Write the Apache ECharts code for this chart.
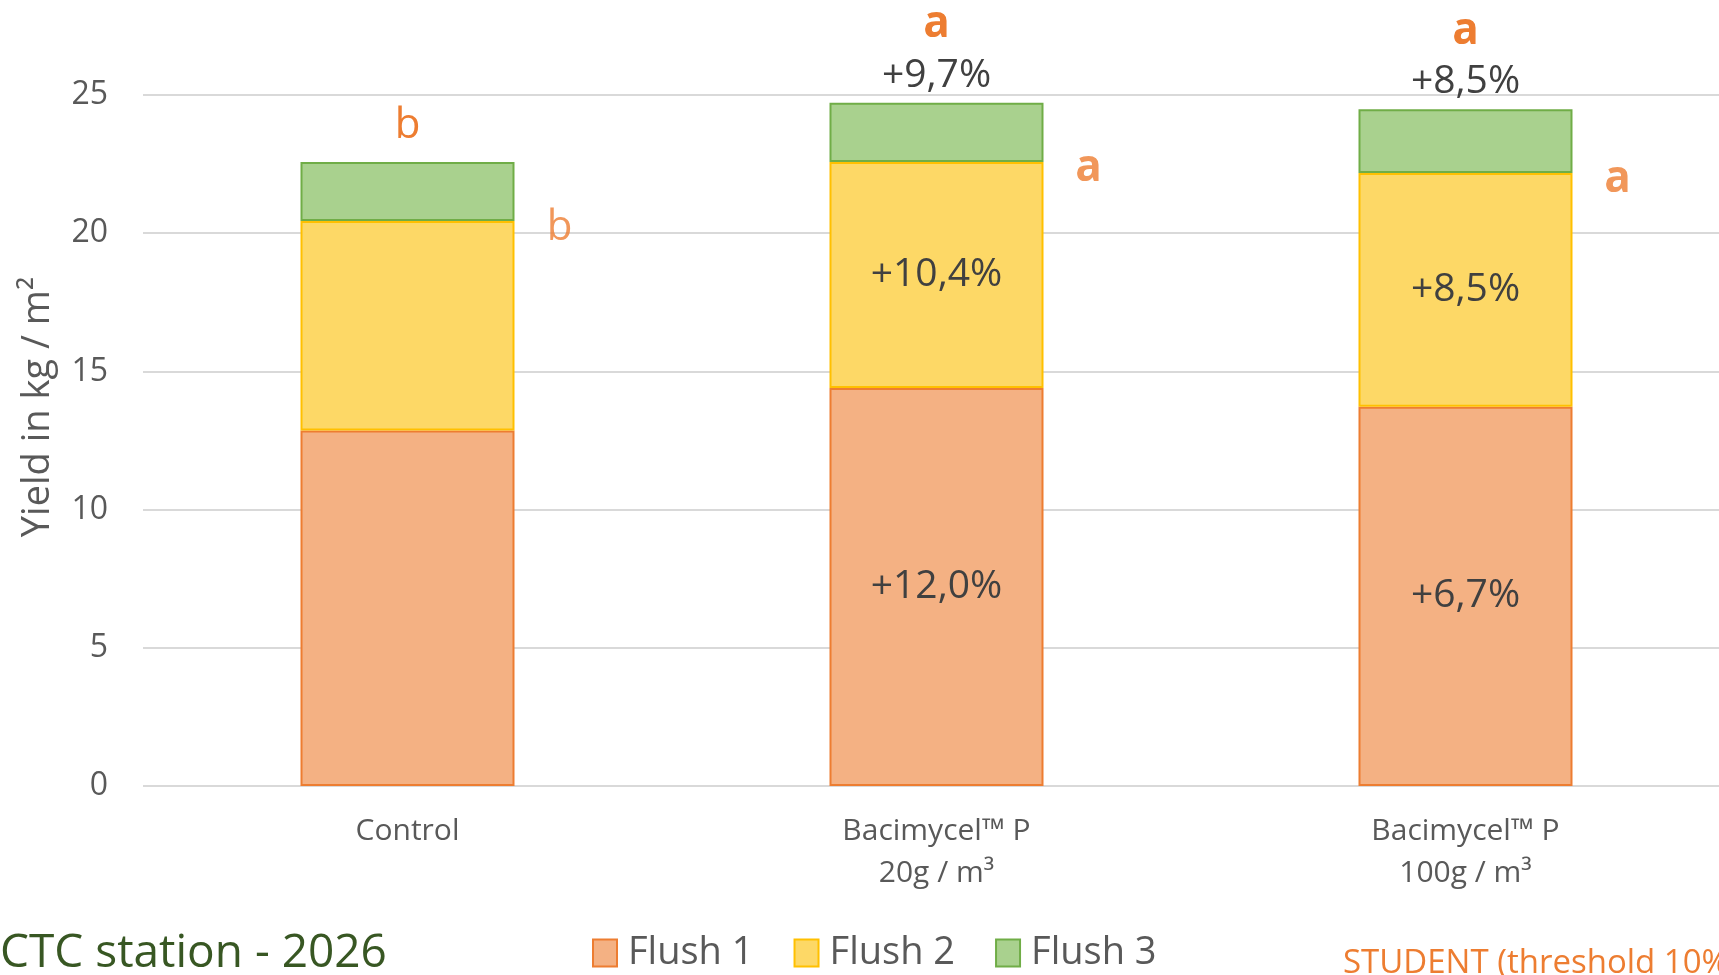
<!DOCTYPE html>
<html>
<head>
<meta charset="utf-8">
<script src="https://cdn.jsdelivr.net/npm/echarts@6/dist/echarts.min.js"></script>
<style>
  html, body { margin: 0; padding: 0; background: #fff; }
  #chart { width: 1719px; height: 975px; }
</style>
</head>
<body>
<div id="chart"></div>
<script>
const categories = ['Control', 'Bacimycel™ P\n20g / m³', 'Bacimycel™ P\n100g / m³']
const flush1 = [12.86, 14.40, 13.72]
const flush2 = [7.58, 8.18, 8.46]
const flush3 = [2.14, 2.14, 2.30]
const flush1Pct = ['', '+12,0%', '+6,7%']
const flush2Pct = ['', '+10,4%', '+8,5%']
const totalPct = ['', '+9,7%', '+8,5%']
const topLetters = ['b', 'a', 'a']
const sideLetters = ['b', 'a', 'a']
const yTicks = [0, 5, 10, 15, 20, 25]

const font = 'Open Sans'
const dark = '#404040'
const orange = '#ED7D31'

const dom = document.getElementById('chart')
const myChart = echarts.init(dom)

const letterStyle = l => (l === 'a' ? 'la' : 'lb')

const option = {
  animation: false,
  textStyle: { fontFamily: font },
  grid: [
    { left: 143, right: 0, top: 95, bottom: 189, outerBoundsMode: 'none' },
    { left: 143, width: 1587, top: 95, bottom: 189, outerBoundsMode: 'none' }
  ],
  legend: {
    data: ['Flush 1', 'Flush 2', 'Flush 3'],
    left: 587,
    top: 929,
    icon: 'rect',
    itemWidth: 24,
    itemHeight: 27,
    itemGap: 40,
    textStyle: { fontSize: 38, color: '#595959', fontFamily: font, padding: [0, 0, 0, 6] }
  },
  xAxis: [
    { gridIndex: 0, type: 'category', data: [''], show: false },
    {
      gridIndex: 1,
      type: 'category',
      data: categories,
      axisLine: { show: false },
      axisTick: { show: false },
      axisLabel: { color: '#595959', fontSize: 30, lineHeight: 42, margin: 24 }
    }
  ],
  yAxis: [
    {
      gridIndex: 0,
      type: 'value',
      min: 0,
      max: 25,
      interval: 5,
      axisLine: { show: false },
      axisTick: { show: false },
      axisLabel: {
        color: '#595959',
        fontSize: 32,
        margin: 35,
        formatter: v => (yTicks.includes(v) ? String(v) : '')
      },
      splitLine: { lineStyle: { color: '#D9D9D9', width: 2 } }
    },
    { gridIndex: 1, type: 'value', min: 0, max: 25, show: false }
  ],
  series: [
    {
      name: 'Flush 1',
      type: 'bar',
      stack: 'yield',
      xAxisIndex: 1,
      yAxisIndex: 1,
      barWidth: 214,
      data: flush1,
      itemStyle: { color: '#F4B183', borderColor: orange, borderWidth: 2 },
      label: {
        show: true,
        position: 'inside',
        color: dark,
        fontSize: 39,
        formatter: p => flush1Pct[p.dataIndex]
      }
    },
    {
      name: 'Flush 2',
      type: 'bar',
      stack: 'yield',
      xAxisIndex: 1,
      yAxisIndex: 1,
      data: flush2,
      itemStyle: { color: '#FDD866', borderColor: '#FFC000', borderWidth: 2 },
      label: {
        show: true,
        position: 'inside',
        color: dark,
        fontSize: 39,
        formatter: p => flush2Pct[p.dataIndex]
      }
    },
    {
      name: 'Flush 3',
      type: 'bar',
      stack: 'yield',
      xAxisIndex: 1,
      yAxisIndex: 1,
      data: flush3,
      itemStyle: { color: '#A9D18E', borderColor: '#70AD47', borderWidth: 2 },
      label: {
        show: true,
        position: 'top',
        distance: 7,
        formatter: p => {
          const l = topLetters[p.dataIndex]
          const pct = totalPct[p.dataIndex]
          return pct
            ? '{' + letterStyle(l) + '|' + l + '}\n{p|' + pct + '}'
            : '{' + letterStyle(l) + 'c|' + l + '}'
        },
        rich: {
          p: { color: dark, fontSize: 39, lineHeight: 40 },
          la: { color: orange, fontSize: 44, fontWeight: 'bold', lineHeight: 62 },
          lb: { color: orange, fontSize: 42, lineHeight: 62 },
          lac: { color: orange, fontSize: 44, fontWeight: 'bold', lineHeight: 58 },
          lbc: { color: orange, fontSize: 42, lineHeight: 58 }
        }
      }
    },
    {
      name: 'letters',
      type: 'scatter',
      xAxisIndex: 1,
      yAxisIndex: 1,
      symbolSize: 1,
      itemStyle: { color: 'rgba(0,0,0,0)' },
      silent: true,
      data: categories.map((c, i) => [i, flush1[i] + flush2[i]]),
      label: {
        show: true,
        position: 'inside',
        offset: [152, 7],
        align: 'center',
        verticalAlign: 'middle',
        formatter: p => '{' + letterStyle(sideLetters[p.dataIndex]) + '|' + sideLetters[p.dataIndex] + '}',
        rich: {
          la: { color: orange, fontSize: 44, fontWeight: 'bold' },
          lb: { color: orange, fontSize: 42 }
        }
      }
    }
  ],
  graphic: [
    {
      type: 'text',
      x: 38,
      y: 407,
      rotation: Math.PI / 2,
      style: {
        text: 'Yield in kg / m²',
        fill: '#595959',
        font: '38px "Open Sans"',
        align: 'center',
        verticalAlign: 'middle'
      }
    },
    {
      type: 'text',
      left: 0,
      top: 931,
      style: { text: 'CTC station - 2026', fill: '#385723', font: '46px "Open Sans"' }
    },
    {
      type: 'text',
      left: 1343,
      top: 947,
      style: { text: 'STUDENT (threshold 10%)', fill: orange, font: '33px "Open Sans"' }
    }
  ]
}

if (option && typeof option === 'object') {
  myChart.setOption(option, true)
}
</script>
</body>
</html>
